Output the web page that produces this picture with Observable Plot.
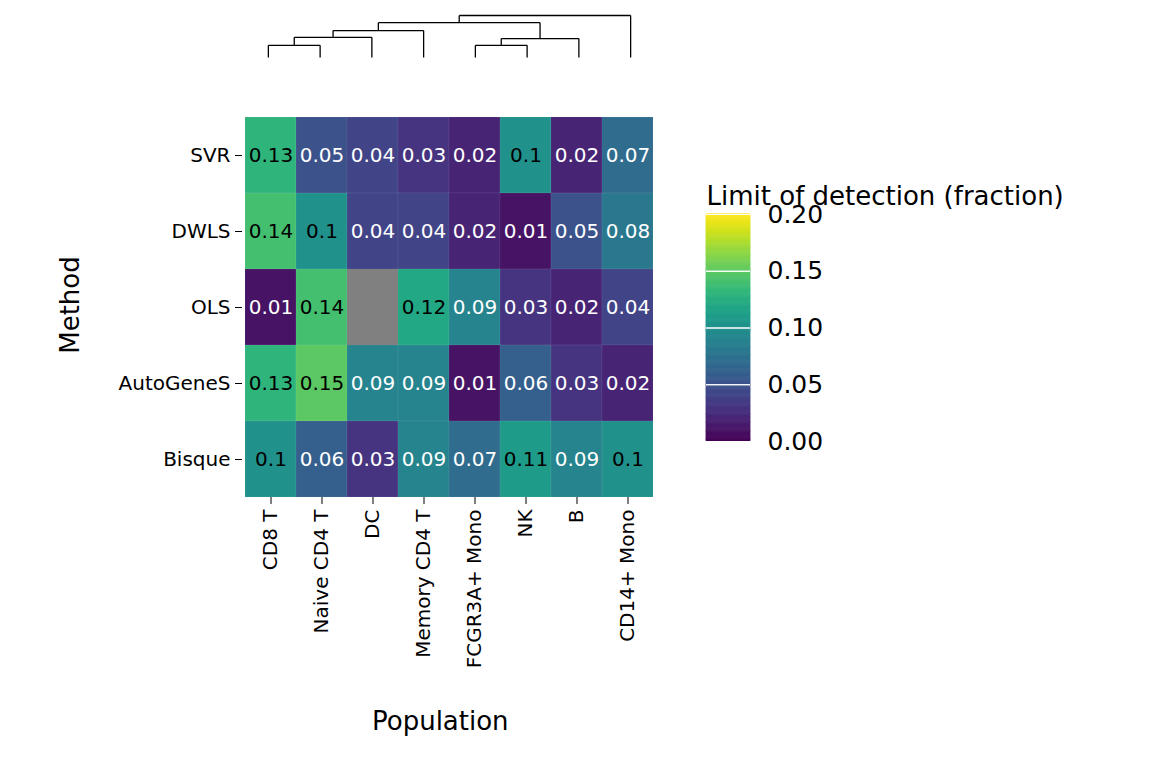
<!DOCTYPE html>
<html lang="en">
<head>
<meta charset="UTF-8">
<title>Limit of detection heatmap</title>
<style>
  body { margin: 0; background: #fff; font-family: "DejaVu Sans", sans-serif; }
  #wrap { position: relative; width: 1152px; height: 768px; }
  #wrap > div { position: absolute; }
  .lbl { font-size: 26px; color: #000; }
</style>
<script src="https://cdn.jsdelivr.net/npm/d3@7"></script>
<script src="https://cdn.jsdelivr.net/npm/@observablehq/plot@0.6"></script>
</head>
<body>
<div id="wrap">
  <div id="dendro" style="left:0;top:0"></div>
  <div id="heat" style="left:0;top:0"></div>
  <div id="legend" style="left:690px;top:170px"></div>
  <div class="lbl" style="left:372px;top:706px">Population</div>
  <div class="lbl" style="left:10px;top:290px;transform:rotate(-90deg);transform-origin:center;width:120px;text-align:center">Method</div>
</div>
<script>
// Data
const populations = ["CD8 T", "Naive CD4 T", "DC", "Memory CD4 T", "FCGR3A+ Mono", "NK", "B", "CD14+ Mono"];
const methods = ["SVR", "DWLS", "OLS", "AutoGeneS", "Bisque"];
const svr       = [0.13, 0.05, 0.04, 0.03, 0.02, 0.10, 0.02, 0.07];
const dwls      = [0.14, 0.10, 0.04, 0.04, 0.02, 0.01, 0.05, 0.08];
const ols       = [0.01, 0.14, null, 0.12, 0.09, 0.03, 0.02, 0.04];
const autogenes = [0.13, 0.15, 0.09, 0.09, 0.01, 0.06, 0.03, 0.02];
const bisque    = [0.10, 0.06, 0.03, 0.09, 0.07, 0.11, 0.09, 0.10];
const legendTicks = [0, 0.05, 0.10, 0.15, 0.20];

// Dendrogram merges: [left node, right node, height]; leaves are 0..7, merges become 8..
const merges = [
  [0, 1, 0.29],
  [8, 2, 0.48],
  [9, 3, 0.64],
  [4, 5, 0.29],
  [11, 6, 0.45],
  [10, 12, 0.83],
  [13, 7, 1.0]
];

const rows = [svr, dwls, ols, autogenes, bisque];
const cells = [];
methods.forEach((m, i) => populations.forEach((p, j) => cells.push({method: m, population: p, value: rows[i][j]})));

const color = {type: "linear", scheme: "viridis", domain: [0, 0.2]};

const heat = Plot.plot({
  width: 700, height: 720,
  marginLeft: 242, marginRight: 44, marginTop: 117, marginBottom: 223,
  style: {fontFamily: "DejaVu Sans", color: "#000"},
  x: {domain: populations, label: null, padding: 0},
  y: {domain: methods, label: null, padding: 0},
  color,
  marks: [
    Plot.cell(cells, {x: "population", y: "method", fill: d => d.value ?? NaN, stroke: "#ffffff22", strokeWidth: 0.5}),
    Plot.cell(cells.filter(d => d.value == null), {x: "population", y: "method", fill: "#808080"}),
    Plot.text(cells.filter(d => d.value != null), {
      x: "population", y: "method", text: d => String(+d.value.toFixed(2)),
      fill: d => d.value >= 0.1 ? "black" : "white", fontSize: 20
    }),
    Plot.axisX({tickRotate: -90, fontSize: 20, tickSize: 7, tickPadding: 5, label: null}),
    Plot.axisY({fontSize: 20, tickSize: 7, tickPadding: 5, label: null})
  ]
});
document.getElementById("heat").appendChild(heat);

// Dendrogram segments from merges
const pos = populations.map((_, i) => ({x: i, h: 0}));
const segs = [];
merges.forEach(([a, b, h]) => {
  const A = pos[a], B = pos[b];
  segs.push({x1: A.x, y1: A.h, x2: A.x, y2: h});
  segs.push({x1: B.x, y1: B.h, x2: B.x, y2: h});
  segs.push({x1: A.x, y1: h, x2: B.x, y2: h});
  pos.push({x: (A.x + B.x) / 2, h});
});
const dendro = Plot.plot({
  width: 700, height: 60,
  marginLeft: 242, marginRight: 44, marginTop: 15, marginBottom: 3,
  x: {domain: [-0.5, populations.length - 0.5], axis: null},
  y: {domain: [0, 1], axis: null},
  marks: [Plot.link(segs, {x1: "x1", y1: "y1", x2: "x2", y2: "y2", stroke: "black", strokeWidth: 1.3})]
});
document.getElementById("dendro").appendChild(dendro);

// Colour bar legend
const steps = d3.range(0, 0.2, 0.001);
const legend = Plot.plot({
  width: 460, height: 275,
  marginLeft: 16, marginRight: 400, marginTop: 44, marginBottom: 4,
  style: {fontFamily: "DejaVu Sans", color: "#000"},
  x: {axis: null, domain: [0, 1]},
  y: {domain: [0, 0.2], axis: null},
  color,
  marks: [
    Plot.rect(steps, {x1: 0, x2: 1, y1: d => d, y2: d => d + 0.0012, fill: d => d + 0.0005, stroke: d => d + 0.0005, strokeWidth: 0.6}),
    Plot.tickY(legendTicks, {y: d => d, x1: 0, x2: 0.2, stroke: "white"}),
    Plot.tickY(legendTicks, {y: d => d, x1: 0.8, x2: 1, stroke: "white"}),
    Plot.text(legendTicks, {y: d => d, x: 1, dx: 17, text: d => d.toFixed(2), textAnchor: "start", fontSize: 25}),
    Plot.text(["Limit of detection (fraction)"], {frameAnchor: "top-left", dy: -28, text: d => d, textAnchor: "start", fontSize: 26})
  ]
});
legend.style.overflow = "visible";
document.getElementById("legend").appendChild(legend);
</script>
</body>
</html>
